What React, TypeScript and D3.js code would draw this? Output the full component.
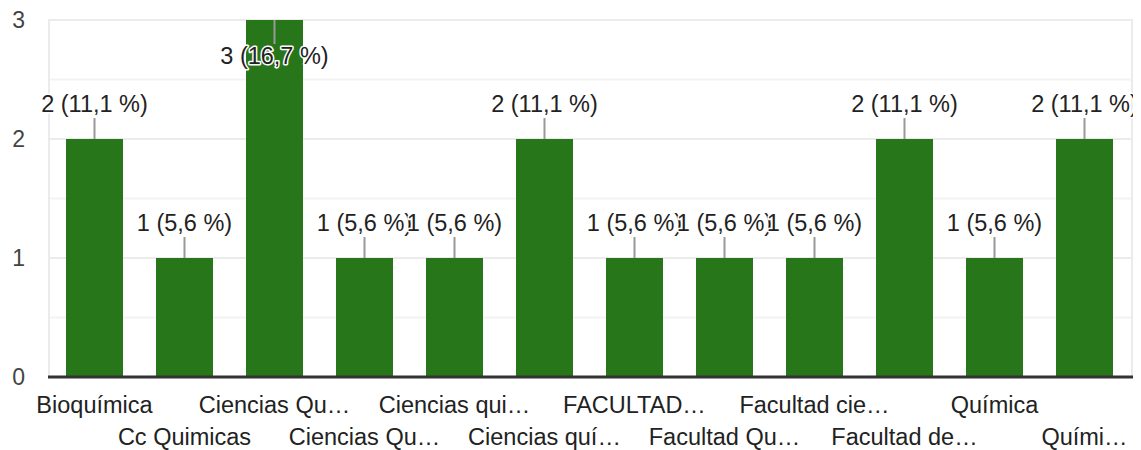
import React from 'react';
import * as d3 from 'd3';

const categories: string[] = [
  'Bioquímica',
  'Cc Quimicas',
  'Ciencias Qu…',
  'Ciencias Qu…',
  'Ciencias qui…',
  'Ciencias quí…',
  'FACULTAD…',
  'Facultad Qu…',
  'Facultad cie…',
  'Facultad de…',
  'Química',
  'Quími…',
];
const counts: number[] = [2, 1, 3, 1, 1, 2, 1, 1, 1, 2, 1, 2];
const total = 18;
const yTicks: number[] = [0, 1, 2, 3];
const yMinor: number[] = [0.5, 1.5, 2.5];

const W = 1133;
const H = 450;
const plotLeft = 49.5;
const plotRight = 1129.5;
const font = '"Liberation Sans", Arial, sans-serif';

const App: React.FC = () => {
  const idx = categories.map((_, i) => String(i));
  const x = d3
    .scaleBand<string>()
    .domain(idx)
    .range([plotLeft, plotRight])
    .paddingInner(0.3667)
    .paddingOuter(0.1833);
  const y = d3.scaleLinear().domain([0, 3]).range([377, 20]);
  const pct = (v: number) => `${v} (${((v / total) * 100).toFixed(1).replace('.', ',')} %)`;

  return (
    <svg
      width={W}
      height={H}
      style={{ position: 'absolute', left: 0, top: 0, overflow: 'hidden' }}
      fontFamily={font}
    >
      {/* grid */}
      {yMinor.map((t) => (
        <line key={'m' + t} x1={48} x2={1133} y1={y(t)} y2={y(t)} stroke="#f3f3f3" strokeWidth={2} />
      ))}
      {yTicks.slice(1).map((t) => (
        <line key={'g' + t} x1={48} x2={1133} y1={y(t)} y2={y(t)} stroke="#ebebeb" strokeWidth={2} />
      ))}
      <line x1={49} x2={49} y1={y(3)} y2={y(0)} stroke="#ebebeb" strokeWidth={2} />
      <line x1={1132} x2={1132} y1={y(3)} y2={y(0)} stroke="#ebebeb" strokeWidth={2} />

      {/* y ticks */}
      {yTicks.map((t) => (
        <text key={'t' + t} x={25} y={y(t)} dy="0.35em" textAnchor="end" fontSize={23} fill="#444">
          {t}
        </text>
      ))}

      {/* bars */}
      {counts.map((v, i) => (
        <rect
          key={'b' + i}
          x={x(String(i))}
          y={y(v)}
          width={x.bandwidth()}
          height={y(0) - y(v)}
          fill="#277619"
        />
      ))}

      {/* axis */}
      <line x1={48} x2={1133} y1={y(0)} y2={y(0)} stroke="#333" strokeWidth={3} />

      {/* value labels */}
      {counts.map((v, i) => {
        const cx = (x(String(i)) || 0) + x.bandwidth() / 2;
        const top = y(v);
        const inside = v === 3;
        const y1 = inside ? top : top - 21;
        const y2 = inside ? top + 24 : top;
        const ty = inside ? top + 44 : top - 27;
        return (
          <g key={'l' + i}>
            <line x1={cx} x2={cx} y1={y1} y2={y2} stroke="#999" strokeWidth={2} />
            <text
              x={cx}
              y={ty}
              textAnchor="middle"
              fontSize={23.5}
              fill="#222"
              stroke="#fff"
              strokeWidth={3}
              strokeLinejoin="round"
              paintOrder="stroke"
            >
              {pct(v)}
            </text>
          </g>
        );
      })}

      {/* x labels */}
      {categories.map((c, i) => {
        const cx = (x(String(i)) || 0) + x.bandwidth() / 2;
        return (
          <text key={'x' + i} x={cx} y={i % 2 === 0 ? 413 : 445} textAnchor="middle" fontSize={23.5} fill="#222">
            {c}
          </text>
        );
      })}
    </svg>
  );
};

export default App;
